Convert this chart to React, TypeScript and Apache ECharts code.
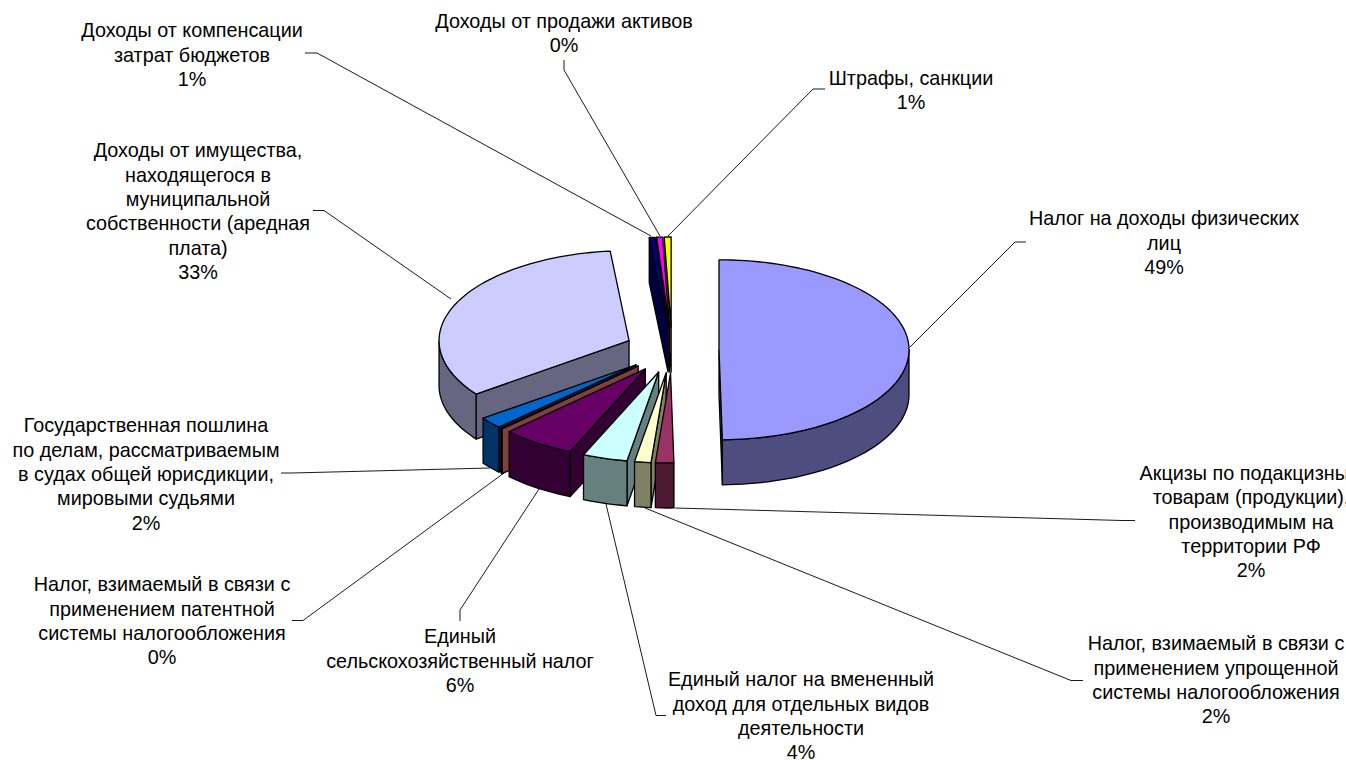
import React, { useEffect, useRef } from "react";
import * as echarts from "echarts";

const categories = [
  "Налог на доходы физических\nлиц",
  "Акцизы по подакцизным\nтоварам (продукции),\nпроизводимым на\nтерритории РФ",
  "Налог, взимаемый в связи с\nприменением упрощенной\nсистемы налогообложения",
  "Единый налог на вмененный\nдоход для отдельных видов\nдеятельности",
  "Единый\nсельскохозяйственный налог",
  "Налог, взимаемый в связи с\nприменением патентной\nсистемы налогообложения",
  "Государственная пошлина\nпо делам, рассматриваемым\nв судах общей юрисдикции,\nмировыми судьями",
  "Доходы от имущества,\nнаходящегося в\nмуниципальной\nсобственности (аредная\nплата)",
  "Доходы от компенсации\nзатрат бюджетов",
  "Доходы от продажи активов",
  "Штрафы, санкции",
];
const shares = [49.72, 1.56, 1.39, 3.81, 6.25, 0.11, 2.06, 33.53, 0.5, 0.5, 0.58];
const percentLabels = ["49%", "2%", "2%", "4%", "6%", "0%", "2%", "33%", "1%", "0%", "1%"];
const topColors = ["#9999FF", "#993366", "#FFFFCC", "#CCFFFF", "#660066", "#FF8080", "#0066CC", "#CCCCFF", "#000080", "#FF00FF", "#FFFF00"];
const sideColors = ["#4D4D80", "#4D1933", "#808066", "#668080", "#330033", "#804040", "#003366", "#666680", "#000040", "#800080", "#808000"];
const paintOrder = [7, 10, 9, 8, 0, 6, 5, 4, 3, 2, 1];

// layout of the labels: centre x, centre y of first line
const labelX = [1164, 1251, 1216, 801, 460, 162, 146, 198, 192, 564, 911];
const labelY = [218.5, 473, 643.5, 679.5, 636.5, 584.5, 425.5, 150.5, 30.5, 21, 78];
const leaders: number[][][] = [
  [[1026, 242], [1015, 242], [910, 347]],
  [[1135, 520.5], [1122, 520.5], [675, 508]],
  [[1083, 680.5], [1071, 680.5], [645, 508]],
  [[666, 715.5], [656, 715.5], [606, 504]],
  [[460, 621], [460, 610], [539, 489]],
  [[292, 620.5], [303, 620.5], [504, 473]],
  [[281, 473], [292, 473], [490, 468]],
  [[313, 210.5], [324, 210.5], [451, 299]],
  [[305, 53], [317, 53], [651, 236]],
  [[564, 60], [564, 70], [660, 236]],
  [[825, 89], [813, 89], [668, 236]],
];

const CX = 672, CY = 350, RX = 190, RY = 90, DEPTH = 45, EX = 47, EY = 23;
const FONT = "'Liberation Sans', Arial, sans-serif";
const FONT_SIZE = 19.8;
const LINE_HEIGHT = 24.3;
const total = shares.reduce((a, b) => a + b, 0);
const rad = (d: number) => (d * Math.PI) / 180;

function sliceAngles(i: number) {
  let acc = 0;
  for (let k = 0; k < i; k++) acc += shares[k];
  return [(acc / total) * 360, ((acc + shares[i]) / total) * 360];
}

function renderSlice(_: any, api: any) {
  const i = api.value(0) as number;
  const [s, e] = sliceAngles(i);
  const mid = rad((s + e) / 2);
  const ax = CX + EX * Math.sin(mid);
  const ay = CY - EY * Math.cos(mid);
  const rim = (deg: number, dz = 0) => [ax + RX * Math.sin(rad(deg)), ay - RY * Math.cos(rad(deg)) + dz];
  const arc = (a: number, b: number, dz = 0) => {
    const n = Math.max(2, Math.ceil(Math.abs(b - a) / 2));
    const pts: number[][] = [];
    for (let k = 0; k <= n; k++) pts.push(rim(a + ((b - a) * k) / n, dz));
    return pts;
  };
  const line = { stroke: "#000", lineWidth: 1.3, lineJoin: "round" };
  const poly = (points: number[][], fill: string) => ({
    type: "polygon",
    shape: { points },
    style: { fill, ...line },
  });
  const children: any[] = [];
  const face = (deg: number) =>
    poly([[ax, ay], rim(deg), rim(deg, DEPTH), [ax, ay + DEPTH]], sideColors[i]);
  if (Math.sin(rad(s)) < 0) children.push(face(s));
  if (Math.sin(rad(e)) > 0) children.push(face(e));
  const wa = Math.max(s, 90), wb = Math.min(e, 270);
  if (wb > wa) children.push(poly([...arc(wa, wb), ...arc(wb, wa, DEPTH)], sideColors[i]));
  children.push(poly([[ax, ay], ...arc(s, e)], topColors[i]));
  return { type: "group", children };
}

export default function App() {
  const ref = useRef<HTMLDivElement>(null);
  useEffect(() => {
    document.body.style.margin = "0";
    const chart = echarts.init(ref.current!, null, { renderer: "svg" });
    const graphics: any[] = [];
    categories.forEach((name, i) => {
      graphics.push({
        type: "polyline",
        silent: true,
        shape: { points: leaders[i] },
        style: { fill: "none", stroke: "#000", lineWidth: 0.9 },
      });
      graphics.push({
        type: "text",
        silent: true,
        x: labelX[i],
        y: labelY[i] - LINE_HEIGHT / 2,
        style: {
          text: name + "\n" + percentLabels[i],
          fontSize: FONT_SIZE,
          fontFamily: FONT,
          lineHeight: LINE_HEIGHT,
          align: "center",
          verticalAlign: "top",
          fill: "#000",
        },
      });
    });
    chart.setOption({
      animation: false,
      backgroundColor: "#fff",
      series: [
        {
          type: "custom",
          coordinateSystem: "none",
          silent: true,
          renderItem: renderSlice,
          data: paintOrder.map((i) => [i, shares[i]]),
        },
      ],
      graphic: graphics,
    });
    return () => chart.dispose();
  }, []);
  return <div ref={ref} style={{ position: "absolute", left: 0, top: 0, width: 1346, height: 760, overflow: "hidden" }} />;
}
